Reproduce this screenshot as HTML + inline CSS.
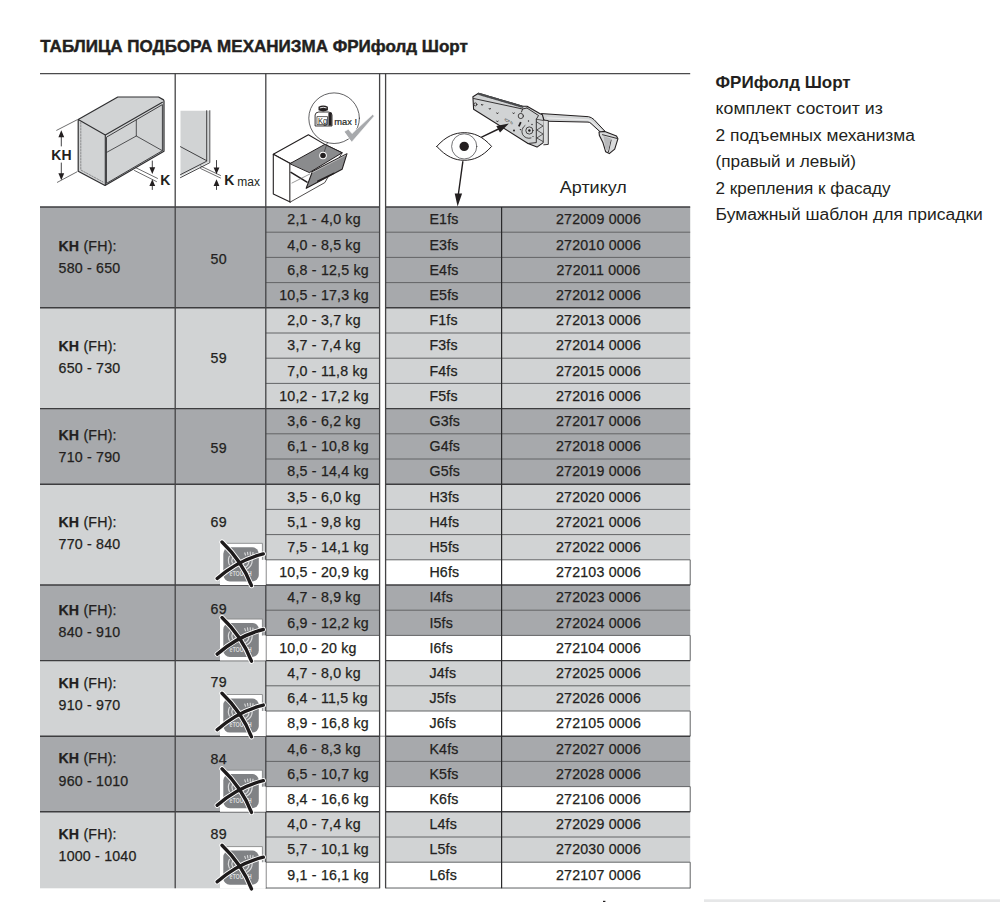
<!DOCTYPE html>
<html><head><meta charset="utf-8"><style>
html,body{margin:0;padding:0;background:#fff;width:1000px;height:902px;overflow:hidden}
svg{display:block}
</style></head><body>
<svg width="1000" height="902" viewBox="0 0 1000 902">
<text x="40.3" y="51.5" font-family="Liberation Sans" font-weight="bold" font-size="17.3" fill="#231f20" stroke="#231f20" stroke-width="0.45" textLength="427.5" lengthAdjust="spacingAndGlyphs">ТАБЛИЦА ПОДБОРА МЕХАНИЗМА ФРИфолд Шорт</text>
<rect x="40" y="207.00" width="339.60" height="100.80" fill="#a7a9ac"/>
<rect x="385.6" y="207.00" width="304.60" height="100.80" fill="#a7a9ac"/>
<rect x="40" y="307.80" width="339.60" height="100.80" fill="#d1d3d4"/>
<rect x="385.6" y="307.80" width="304.60" height="100.80" fill="#d1d3d4"/>
<rect x="40" y="408.60" width="339.60" height="75.60" fill="#a7a9ac"/>
<rect x="385.6" y="408.60" width="304.60" height="75.60" fill="#a7a9ac"/>
<rect x="40" y="484.20" width="339.60" height="100.80" fill="#d1d3d4"/>
<rect x="385.6" y="484.20" width="304.60" height="100.80" fill="#d1d3d4"/>
<rect x="265.8" y="559.80" width="113.80" height="25.20" fill="#fff"/>
<rect x="385.6" y="559.80" width="304.60" height="25.20" fill="#fff"/>
<line x1="690.20" y1="559.80" x2="690.20" y2="585.00" stroke="#636466" stroke-width="1"/>
<rect x="40" y="585.00" width="339.60" height="75.60" fill="#a7a9ac"/>
<rect x="385.6" y="585.00" width="304.60" height="75.60" fill="#a7a9ac"/>
<rect x="265.8" y="635.40" width="113.80" height="25.20" fill="#fff"/>
<rect x="385.6" y="635.40" width="304.60" height="25.20" fill="#fff"/>
<line x1="690.20" y1="635.40" x2="690.20" y2="660.60" stroke="#636466" stroke-width="1"/>
<rect x="40" y="660.60" width="339.60" height="75.60" fill="#d1d3d4"/>
<rect x="385.6" y="660.60" width="304.60" height="75.60" fill="#d1d3d4"/>
<rect x="265.8" y="711.00" width="113.80" height="25.20" fill="#fff"/>
<rect x="385.6" y="711.00" width="304.60" height="25.20" fill="#fff"/>
<line x1="690.20" y1="711.00" x2="690.20" y2="736.20" stroke="#636466" stroke-width="1"/>
<rect x="40" y="736.20" width="339.60" height="75.60" fill="#a7a9ac"/>
<rect x="385.6" y="736.20" width="304.60" height="75.60" fill="#a7a9ac"/>
<rect x="265.8" y="786.60" width="113.80" height="25.20" fill="#fff"/>
<rect x="385.6" y="786.60" width="304.60" height="25.20" fill="#fff"/>
<line x1="690.20" y1="786.60" x2="690.20" y2="811.80" stroke="#636466" stroke-width="1"/>
<rect x="40" y="811.80" width="339.60" height="76.50" fill="#d1d3d4"/>
<rect x="385.6" y="811.80" width="304.60" height="76.50" fill="#d1d3d4"/>
<rect x="265.8" y="862.20" width="113.80" height="26.10" fill="#fff"/>
<rect x="385.6" y="862.20" width="304.60" height="26.10" fill="#fff"/>
<line x1="690.20" y1="862.20" x2="690.20" y2="888.30" stroke="#636466" stroke-width="1"/>
<line x1="265.8" y1="232.20" x2="379.6" y2="232.20" stroke="#636466" stroke-width="1"/>
<line x1="385.6" y1="232.20" x2="690.2" y2="232.20" stroke="#636466" stroke-width="1"/>
<line x1="265.8" y1="257.40" x2="379.6" y2="257.40" stroke="#636466" stroke-width="1"/>
<line x1="385.6" y1="257.40" x2="690.2" y2="257.40" stroke="#636466" stroke-width="1"/>
<line x1="265.8" y1="282.60" x2="379.6" y2="282.60" stroke="#636466" stroke-width="1"/>
<line x1="385.6" y1="282.60" x2="690.2" y2="282.60" stroke="#636466" stroke-width="1"/>
<line x1="265.8" y1="333.00" x2="379.6" y2="333.00" stroke="#636466" stroke-width="1"/>
<line x1="385.6" y1="333.00" x2="690.2" y2="333.00" stroke="#636466" stroke-width="1"/>
<line x1="265.8" y1="358.20" x2="379.6" y2="358.20" stroke="#636466" stroke-width="1"/>
<line x1="385.6" y1="358.20" x2="690.2" y2="358.20" stroke="#636466" stroke-width="1"/>
<line x1="265.8" y1="383.40" x2="379.6" y2="383.40" stroke="#636466" stroke-width="1"/>
<line x1="385.6" y1="383.40" x2="690.2" y2="383.40" stroke="#636466" stroke-width="1"/>
<line x1="265.8" y1="433.80" x2="379.6" y2="433.80" stroke="#636466" stroke-width="1"/>
<line x1="385.6" y1="433.80" x2="690.2" y2="433.80" stroke="#636466" stroke-width="1"/>
<line x1="265.8" y1="459.00" x2="379.6" y2="459.00" stroke="#636466" stroke-width="1"/>
<line x1="385.6" y1="459.00" x2="690.2" y2="459.00" stroke="#636466" stroke-width="1"/>
<line x1="265.8" y1="509.40" x2="379.6" y2="509.40" stroke="#636466" stroke-width="1"/>
<line x1="385.6" y1="509.40" x2="690.2" y2="509.40" stroke="#636466" stroke-width="1"/>
<line x1="265.8" y1="534.60" x2="379.6" y2="534.60" stroke="#636466" stroke-width="1"/>
<line x1="385.6" y1="534.60" x2="690.2" y2="534.60" stroke="#636466" stroke-width="1"/>
<line x1="265.8" y1="559.80" x2="379.6" y2="559.80" stroke="#636466" stroke-width="1"/>
<line x1="385.6" y1="559.80" x2="690.2" y2="559.80" stroke="#636466" stroke-width="1"/>
<line x1="265.8" y1="610.20" x2="379.6" y2="610.20" stroke="#636466" stroke-width="1"/>
<line x1="385.6" y1="610.20" x2="690.2" y2="610.20" stroke="#636466" stroke-width="1"/>
<line x1="265.8" y1="635.40" x2="379.6" y2="635.40" stroke="#636466" stroke-width="1"/>
<line x1="385.6" y1="635.40" x2="690.2" y2="635.40" stroke="#636466" stroke-width="1"/>
<line x1="265.8" y1="685.80" x2="379.6" y2="685.80" stroke="#636466" stroke-width="1"/>
<line x1="385.6" y1="685.80" x2="690.2" y2="685.80" stroke="#636466" stroke-width="1"/>
<line x1="265.8" y1="711.00" x2="379.6" y2="711.00" stroke="#636466" stroke-width="1"/>
<line x1="385.6" y1="711.00" x2="690.2" y2="711.00" stroke="#636466" stroke-width="1"/>
<line x1="265.8" y1="761.40" x2="379.6" y2="761.40" stroke="#636466" stroke-width="1"/>
<line x1="385.6" y1="761.40" x2="690.2" y2="761.40" stroke="#636466" stroke-width="1"/>
<line x1="265.8" y1="786.60" x2="379.6" y2="786.60" stroke="#636466" stroke-width="1"/>
<line x1="385.6" y1="786.60" x2="690.2" y2="786.60" stroke="#636466" stroke-width="1"/>
<line x1="265.8" y1="837.00" x2="379.6" y2="837.00" stroke="#636466" stroke-width="1"/>
<line x1="385.6" y1="837.00" x2="690.2" y2="837.00" stroke="#636466" stroke-width="1"/>
<line x1="265.8" y1="862.20" x2="379.6" y2="862.20" stroke="#636466" stroke-width="1"/>
<line x1="385.6" y1="862.20" x2="690.2" y2="862.20" stroke="#636466" stroke-width="1"/>
<line x1="40" y1="207.00" x2="379.6" y2="207.00" stroke="#3d3d3f" stroke-width="1.4"/>
<line x1="385.6" y1="207.00" x2="690.2" y2="207.00" stroke="#3d3d3f" stroke-width="1.4"/>
<line x1="40" y1="307.80" x2="379.6" y2="307.80" stroke="#3d3d3f" stroke-width="1.4"/>
<line x1="385.6" y1="307.80" x2="690.2" y2="307.80" stroke="#3d3d3f" stroke-width="1.4"/>
<line x1="40" y1="408.60" x2="379.6" y2="408.60" stroke="#3d3d3f" stroke-width="1.4"/>
<line x1="385.6" y1="408.60" x2="690.2" y2="408.60" stroke="#3d3d3f" stroke-width="1.4"/>
<line x1="40" y1="484.20" x2="379.6" y2="484.20" stroke="#3d3d3f" stroke-width="1.4"/>
<line x1="385.6" y1="484.20" x2="690.2" y2="484.20" stroke="#3d3d3f" stroke-width="1.4"/>
<line x1="40" y1="585.00" x2="379.6" y2="585.00" stroke="#3d3d3f" stroke-width="1.4"/>
<line x1="385.6" y1="585.00" x2="690.2" y2="585.00" stroke="#3d3d3f" stroke-width="1.4"/>
<line x1="40" y1="660.60" x2="379.6" y2="660.60" stroke="#3d3d3f" stroke-width="1.4"/>
<line x1="385.6" y1="660.60" x2="690.2" y2="660.60" stroke="#3d3d3f" stroke-width="1.4"/>
<line x1="40" y1="736.20" x2="379.6" y2="736.20" stroke="#3d3d3f" stroke-width="1.4"/>
<line x1="385.6" y1="736.20" x2="690.2" y2="736.20" stroke="#3d3d3f" stroke-width="1.4"/>
<line x1="40" y1="811.80" x2="379.6" y2="811.80" stroke="#3d3d3f" stroke-width="1.4"/>
<line x1="385.6" y1="811.80" x2="690.2" y2="811.80" stroke="#3d3d3f" stroke-width="1.4"/>
<line x1="379.6" y1="736.20" x2="385.6" y2="736.20" stroke="#8e8f91" stroke-width="1"/>
<line x1="265.8" y1="888.00" x2="379.6" y2="888.00" stroke="#636466" stroke-width="1"/>
<line x1="385.6" y1="888.00" x2="690.2" y2="888.00" stroke="#636466" stroke-width="1"/>
<line x1="40" y1="73.6" x2="690.2" y2="73.6" stroke="#4a4a4c" stroke-width="1.3"/>
<line x1="175.2" y1="73" x2="175.2" y2="888.30" stroke="#444446" stroke-width="1.3"/>
<line x1="265.8" y1="73" x2="265.8" y2="888.30" stroke="#444446" stroke-width="1.3"/>
<line x1="379.6" y1="73" x2="379.6" y2="888.30" stroke="#444446" stroke-width="1.3"/>
<line x1="385.6" y1="73" x2="385.6" y2="888.30" stroke="#444446" stroke-width="1.3"/>
<line x1="501.6" y1="207.0" x2="501.6" y2="888.30" stroke="#2a2a2c" stroke-width="1.2"/>
<text x="58.4" y="251" font-family="Liberation Sans" font-size="14.2" fill="#231f20" stroke="#231f20" stroke-width="0.25" letter-spacing="0.2"><tspan font-weight="bold">KH</tspan> (FH):</text>
<text x="58.6" y="273.0" font-family="Liberation Sans" font-size="14.2" fill="#231f20" stroke="#231f20" stroke-width="0.25" letter-spacing="0.2">580 - 650</text>
<text x="218.7" y="263.6" font-family="Liberation Sans" font-size="14.2" fill="#231f20" stroke="#231f20" stroke-width="0.25" letter-spacing="0.2" text-anchor="middle">50</text>
<text x="58.4" y="351" font-family="Liberation Sans" font-size="14.2" fill="#231f20" stroke="#231f20" stroke-width="0.25" letter-spacing="0.2"><tspan font-weight="bold">KH</tspan> (FH):</text>
<text x="58.6" y="373.0" font-family="Liberation Sans" font-size="14.2" fill="#231f20" stroke="#231f20" stroke-width="0.25" letter-spacing="0.2">650 - 730</text>
<text x="218.7" y="363.2" font-family="Liberation Sans" font-size="14.2" fill="#231f20" stroke="#231f20" stroke-width="0.25" letter-spacing="0.2" text-anchor="middle">59</text>
<text x="58.4" y="440.3" font-family="Liberation Sans" font-size="14.2" fill="#231f20" stroke="#231f20" stroke-width="0.25" letter-spacing="0.2"><tspan font-weight="bold">KH</tspan> (FH):</text>
<text x="58.6" y="462.1" font-family="Liberation Sans" font-size="14.2" fill="#231f20" stroke="#231f20" stroke-width="0.25" letter-spacing="0.2">710 - 790</text>
<text x="218.7" y="453" font-family="Liberation Sans" font-size="14.2" fill="#231f20" stroke="#231f20" stroke-width="0.25" letter-spacing="0.2" text-anchor="middle">59</text>
<text x="58.4" y="527.1" font-family="Liberation Sans" font-size="14.2" fill="#231f20" stroke="#231f20" stroke-width="0.25" letter-spacing="0.2"><tspan font-weight="bold">KH</tspan> (FH):</text>
<text x="58.6" y="549.1" font-family="Liberation Sans" font-size="14.2" fill="#231f20" stroke="#231f20" stroke-width="0.25" letter-spacing="0.2">770 - 840</text>
<text x="218.7" y="526.8" font-family="Liberation Sans" font-size="14.2" fill="#231f20" stroke="#231f20" stroke-width="0.25" letter-spacing="0.2" text-anchor="middle">69</text>
<text x="58.4" y="614.5" font-family="Liberation Sans" font-size="14.2" fill="#231f20" stroke="#231f20" stroke-width="0.25" letter-spacing="0.2"><tspan font-weight="bold">KH</tspan> (FH):</text>
<text x="58.6" y="636.6" font-family="Liberation Sans" font-size="14.2" fill="#231f20" stroke="#231f20" stroke-width="0.25" letter-spacing="0.2">840 - 910</text>
<text x="218.7" y="614.4" font-family="Liberation Sans" font-size="14.2" fill="#231f20" stroke="#231f20" stroke-width="0.25" letter-spacing="0.2" text-anchor="middle">69</text>
<text x="58.4" y="687.6" font-family="Liberation Sans" font-size="14.2" fill="#231f20" stroke="#231f20" stroke-width="0.25" letter-spacing="0.2"><tspan font-weight="bold">KH</tspan> (FH):</text>
<text x="58.6" y="709.5" font-family="Liberation Sans" font-size="14.2" fill="#231f20" stroke="#231f20" stroke-width="0.25" letter-spacing="0.2">910 - 970</text>
<text x="218.7" y="686.8" font-family="Liberation Sans" font-size="14.2" fill="#231f20" stroke="#231f20" stroke-width="0.25" letter-spacing="0.2" text-anchor="middle">79</text>
<text x="58.4" y="763.1" font-family="Liberation Sans" font-size="14.2" fill="#231f20" stroke="#231f20" stroke-width="0.25" letter-spacing="0.2"><tspan font-weight="bold">KH</tspan> (FH):</text>
<text x="58.6" y="785.9" font-family="Liberation Sans" font-size="14.2" fill="#231f20" stroke="#231f20" stroke-width="0.25" letter-spacing="0.2">960 - 1010</text>
<text x="218.7" y="763.7" font-family="Liberation Sans" font-size="14.2" fill="#231f20" stroke="#231f20" stroke-width="0.25" letter-spacing="0.2" text-anchor="middle">84</text>
<text x="58.4" y="838.7" font-family="Liberation Sans" font-size="14.2" fill="#231f20" stroke="#231f20" stroke-width="0.25" letter-spacing="0.2"><tspan font-weight="bold">KH</tspan> (FH):</text>
<text x="58.6" y="861.4" font-family="Liberation Sans" font-size="14.2" fill="#231f20" stroke="#231f20" stroke-width="0.25" letter-spacing="0.2">1000 - 1040</text>
<text x="218.7" y="838.7" font-family="Liberation Sans" font-size="14.2" fill="#231f20" stroke="#231f20" stroke-width="0.25" letter-spacing="0.2" text-anchor="middle">89</text>
<text x="307.7" y="224.35" font-family="Liberation Sans" font-size="14.2" fill="#231f20" stroke="#231f20" stroke-width="0.25" letter-spacing="0.2" text-anchor="end">2,1</text><text x="307.7" y="224.35" font-family="Liberation Sans" font-size="14.2" fill="#231f20" stroke="#231f20" stroke-width="0.25" letter-spacing="0.2" xml:space="preserve"> - 4,0 kg</text>
<text x="429.4" y="224.35" font-family="Liberation Sans" font-size="14.2" fill="#231f20" stroke="#231f20" stroke-width="0.25" letter-spacing="0.2">E1fs</text>
<text x="598.50" y="224.35" font-family="Liberation Sans" font-size="14.2" fill="#231f20" stroke="#231f20" stroke-width="0.25" letter-spacing="0.2" text-anchor="middle">272009 0006</text>
<text x="307.7" y="249.55" font-family="Liberation Sans" font-size="14.2" fill="#231f20" stroke="#231f20" stroke-width="0.25" letter-spacing="0.2" text-anchor="end">4,0</text><text x="307.7" y="249.55" font-family="Liberation Sans" font-size="14.2" fill="#231f20" stroke="#231f20" stroke-width="0.25" letter-spacing="0.2" xml:space="preserve"> - 8,5 kg</text>
<text x="429.4" y="249.55" font-family="Liberation Sans" font-size="14.2" fill="#231f20" stroke="#231f20" stroke-width="0.25" letter-spacing="0.2">E3fs</text>
<text x="598.50" y="249.55" font-family="Liberation Sans" font-size="14.2" fill="#231f20" stroke="#231f20" stroke-width="0.25" letter-spacing="0.2" text-anchor="middle">272010 0006</text>
<text x="307.7" y="274.75" font-family="Liberation Sans" font-size="14.2" fill="#231f20" stroke="#231f20" stroke-width="0.25" letter-spacing="0.2" text-anchor="end">6,8</text><text x="307.7" y="274.75" font-family="Liberation Sans" font-size="14.2" fill="#231f20" stroke="#231f20" stroke-width="0.25" letter-spacing="0.2" xml:space="preserve"> - 12,5 kg</text>
<text x="429.4" y="274.75" font-family="Liberation Sans" font-size="14.2" fill="#231f20" stroke="#231f20" stroke-width="0.25" letter-spacing="0.2">E4fs</text>
<text x="598.50" y="274.75" font-family="Liberation Sans" font-size="14.2" fill="#231f20" stroke="#231f20" stroke-width="0.25" letter-spacing="0.2" text-anchor="middle">272011 0006</text>
<text x="307.7" y="299.95" font-family="Liberation Sans" font-size="14.2" fill="#231f20" stroke="#231f20" stroke-width="0.25" letter-spacing="0.2" text-anchor="end">10,5</text><text x="307.7" y="299.95" font-family="Liberation Sans" font-size="14.2" fill="#231f20" stroke="#231f20" stroke-width="0.25" letter-spacing="0.2" xml:space="preserve"> - 17,3 kg</text>
<text x="429.4" y="299.95" font-family="Liberation Sans" font-size="14.2" fill="#231f20" stroke="#231f20" stroke-width="0.25" letter-spacing="0.2">E5fs</text>
<text x="598.50" y="299.95" font-family="Liberation Sans" font-size="14.2" fill="#231f20" stroke="#231f20" stroke-width="0.25" letter-spacing="0.2" text-anchor="middle">272012 0006</text>
<text x="307.7" y="325.15" font-family="Liberation Sans" font-size="14.2" fill="#231f20" stroke="#231f20" stroke-width="0.25" letter-spacing="0.2" text-anchor="end">2,0</text><text x="307.7" y="325.15" font-family="Liberation Sans" font-size="14.2" fill="#231f20" stroke="#231f20" stroke-width="0.25" letter-spacing="0.2" xml:space="preserve"> - 3,7 kg</text>
<text x="429.4" y="325.15" font-family="Liberation Sans" font-size="14.2" fill="#231f20" stroke="#231f20" stroke-width="0.25" letter-spacing="0.2">F1fs</text>
<text x="598.50" y="325.15" font-family="Liberation Sans" font-size="14.2" fill="#231f20" stroke="#231f20" stroke-width="0.25" letter-spacing="0.2" text-anchor="middle">272013 0006</text>
<text x="307.7" y="350.35" font-family="Liberation Sans" font-size="14.2" fill="#231f20" stroke="#231f20" stroke-width="0.25" letter-spacing="0.2" text-anchor="end">3,7</text><text x="307.7" y="350.35" font-family="Liberation Sans" font-size="14.2" fill="#231f20" stroke="#231f20" stroke-width="0.25" letter-spacing="0.2" xml:space="preserve"> - 7,4 kg</text>
<text x="429.4" y="350.35" font-family="Liberation Sans" font-size="14.2" fill="#231f20" stroke="#231f20" stroke-width="0.25" letter-spacing="0.2">F3fs</text>
<text x="598.50" y="350.35" font-family="Liberation Sans" font-size="14.2" fill="#231f20" stroke="#231f20" stroke-width="0.25" letter-spacing="0.2" text-anchor="middle">272014 0006</text>
<text x="307.7" y="375.55" font-family="Liberation Sans" font-size="14.2" fill="#231f20" stroke="#231f20" stroke-width="0.25" letter-spacing="0.2" text-anchor="end">7,0</text><text x="307.7" y="375.55" font-family="Liberation Sans" font-size="14.2" fill="#231f20" stroke="#231f20" stroke-width="0.25" letter-spacing="0.2" xml:space="preserve"> - 11,8 kg</text>
<text x="429.4" y="375.55" font-family="Liberation Sans" font-size="14.2" fill="#231f20" stroke="#231f20" stroke-width="0.25" letter-spacing="0.2">F4fs</text>
<text x="598.50" y="375.55" font-family="Liberation Sans" font-size="14.2" fill="#231f20" stroke="#231f20" stroke-width="0.25" letter-spacing="0.2" text-anchor="middle">272015 0006</text>
<text x="307.7" y="400.75" font-family="Liberation Sans" font-size="14.2" fill="#231f20" stroke="#231f20" stroke-width="0.25" letter-spacing="0.2" text-anchor="end">10,2</text><text x="307.7" y="400.75" font-family="Liberation Sans" font-size="14.2" fill="#231f20" stroke="#231f20" stroke-width="0.25" letter-spacing="0.2" xml:space="preserve"> - 17,2 kg</text>
<text x="429.4" y="400.75" font-family="Liberation Sans" font-size="14.2" fill="#231f20" stroke="#231f20" stroke-width="0.25" letter-spacing="0.2">F5fs</text>
<text x="598.50" y="400.75" font-family="Liberation Sans" font-size="14.2" fill="#231f20" stroke="#231f20" stroke-width="0.25" letter-spacing="0.2" text-anchor="middle">272016 0006</text>
<text x="307.7" y="425.95" font-family="Liberation Sans" font-size="14.2" fill="#231f20" stroke="#231f20" stroke-width="0.25" letter-spacing="0.2" text-anchor="end">3,6</text><text x="307.7" y="425.95" font-family="Liberation Sans" font-size="14.2" fill="#231f20" stroke="#231f20" stroke-width="0.25" letter-spacing="0.2" xml:space="preserve"> - 6,2 kg</text>
<text x="429.4" y="425.95" font-family="Liberation Sans" font-size="14.2" fill="#231f20" stroke="#231f20" stroke-width="0.25" letter-spacing="0.2">G3fs</text>
<text x="598.50" y="425.95" font-family="Liberation Sans" font-size="14.2" fill="#231f20" stroke="#231f20" stroke-width="0.25" letter-spacing="0.2" text-anchor="middle">272017 0006</text>
<text x="307.7" y="451.15" font-family="Liberation Sans" font-size="14.2" fill="#231f20" stroke="#231f20" stroke-width="0.25" letter-spacing="0.2" text-anchor="end">6,1</text><text x="307.7" y="451.15" font-family="Liberation Sans" font-size="14.2" fill="#231f20" stroke="#231f20" stroke-width="0.25" letter-spacing="0.2" xml:space="preserve"> - 10,8 kg</text>
<text x="429.4" y="451.15" font-family="Liberation Sans" font-size="14.2" fill="#231f20" stroke="#231f20" stroke-width="0.25" letter-spacing="0.2">G4fs</text>
<text x="598.50" y="451.15" font-family="Liberation Sans" font-size="14.2" fill="#231f20" stroke="#231f20" stroke-width="0.25" letter-spacing="0.2" text-anchor="middle">272018 0006</text>
<text x="307.7" y="476.35" font-family="Liberation Sans" font-size="14.2" fill="#231f20" stroke="#231f20" stroke-width="0.25" letter-spacing="0.2" text-anchor="end">8,5</text><text x="307.7" y="476.35" font-family="Liberation Sans" font-size="14.2" fill="#231f20" stroke="#231f20" stroke-width="0.25" letter-spacing="0.2" xml:space="preserve"> - 14,4 kg</text>
<text x="429.4" y="476.35" font-family="Liberation Sans" font-size="14.2" fill="#231f20" stroke="#231f20" stroke-width="0.25" letter-spacing="0.2">G5fs</text>
<text x="598.50" y="476.35" font-family="Liberation Sans" font-size="14.2" fill="#231f20" stroke="#231f20" stroke-width="0.25" letter-spacing="0.2" text-anchor="middle">272019 0006</text>
<text x="307.7" y="501.55" font-family="Liberation Sans" font-size="14.2" fill="#231f20" stroke="#231f20" stroke-width="0.25" letter-spacing="0.2" text-anchor="end">3,5</text><text x="307.7" y="501.55" font-family="Liberation Sans" font-size="14.2" fill="#231f20" stroke="#231f20" stroke-width="0.25" letter-spacing="0.2" xml:space="preserve"> - 6,0 kg</text>
<text x="429.4" y="501.55" font-family="Liberation Sans" font-size="14.2" fill="#231f20" stroke="#231f20" stroke-width="0.25" letter-spacing="0.2">H3fs</text>
<text x="598.50" y="501.55" font-family="Liberation Sans" font-size="14.2" fill="#231f20" stroke="#231f20" stroke-width="0.25" letter-spacing="0.2" text-anchor="middle">272020 0006</text>
<text x="307.7" y="526.75" font-family="Liberation Sans" font-size="14.2" fill="#231f20" stroke="#231f20" stroke-width="0.25" letter-spacing="0.2" text-anchor="end">5,1</text><text x="307.7" y="526.75" font-family="Liberation Sans" font-size="14.2" fill="#231f20" stroke="#231f20" stroke-width="0.25" letter-spacing="0.2" xml:space="preserve"> - 9,8 kg</text>
<text x="429.4" y="526.75" font-family="Liberation Sans" font-size="14.2" fill="#231f20" stroke="#231f20" stroke-width="0.25" letter-spacing="0.2">H4fs</text>
<text x="598.50" y="526.75" font-family="Liberation Sans" font-size="14.2" fill="#231f20" stroke="#231f20" stroke-width="0.25" letter-spacing="0.2" text-anchor="middle">272021 0006</text>
<text x="307.7" y="551.95" font-family="Liberation Sans" font-size="14.2" fill="#231f20" stroke="#231f20" stroke-width="0.25" letter-spacing="0.2" text-anchor="end">7,5</text><text x="307.7" y="551.95" font-family="Liberation Sans" font-size="14.2" fill="#231f20" stroke="#231f20" stroke-width="0.25" letter-spacing="0.2" xml:space="preserve"> - 14,1 kg</text>
<text x="429.4" y="551.95" font-family="Liberation Sans" font-size="14.2" fill="#231f20" stroke="#231f20" stroke-width="0.25" letter-spacing="0.2">H5fs</text>
<text x="598.50" y="551.95" font-family="Liberation Sans" font-size="14.2" fill="#231f20" stroke="#231f20" stroke-width="0.25" letter-spacing="0.2" text-anchor="middle">272022 0006</text>
<text x="307.7" y="577.15" font-family="Liberation Sans" font-size="14.2" fill="#231f20" stroke="#231f20" stroke-width="0.25" letter-spacing="0.2" text-anchor="end">10,5</text><text x="307.7" y="577.15" font-family="Liberation Sans" font-size="14.2" fill="#231f20" stroke="#231f20" stroke-width="0.25" letter-spacing="0.2" xml:space="preserve"> - 20,9 kg</text>
<text x="429.4" y="577.15" font-family="Liberation Sans" font-size="14.2" fill="#231f20" stroke="#231f20" stroke-width="0.25" letter-spacing="0.2">H6fs</text>
<text x="598.50" y="577.15" font-family="Liberation Sans" font-size="14.2" fill="#231f20" stroke="#231f20" stroke-width="0.25" letter-spacing="0.2" text-anchor="middle">272103 0006</text>
<text x="307.7" y="602.35" font-family="Liberation Sans" font-size="14.2" fill="#231f20" stroke="#231f20" stroke-width="0.25" letter-spacing="0.2" text-anchor="end">4,7</text><text x="307.7" y="602.35" font-family="Liberation Sans" font-size="14.2" fill="#231f20" stroke="#231f20" stroke-width="0.25" letter-spacing="0.2" xml:space="preserve"> - 8,9 kg</text>
<text x="429.4" y="602.35" font-family="Liberation Sans" font-size="14.2" fill="#231f20" stroke="#231f20" stroke-width="0.25" letter-spacing="0.2">I4fs</text>
<text x="598.50" y="602.35" font-family="Liberation Sans" font-size="14.2" fill="#231f20" stroke="#231f20" stroke-width="0.25" letter-spacing="0.2" text-anchor="middle">272023 0006</text>
<text x="307.7" y="627.55" font-family="Liberation Sans" font-size="14.2" fill="#231f20" stroke="#231f20" stroke-width="0.25" letter-spacing="0.2" text-anchor="end">6,9</text><text x="307.7" y="627.55" font-family="Liberation Sans" font-size="14.2" fill="#231f20" stroke="#231f20" stroke-width="0.25" letter-spacing="0.2" xml:space="preserve"> - 12,2 kg</text>
<text x="429.4" y="627.55" font-family="Liberation Sans" font-size="14.2" fill="#231f20" stroke="#231f20" stroke-width="0.25" letter-spacing="0.2">I5fs</text>
<text x="598.50" y="627.55" font-family="Liberation Sans" font-size="14.2" fill="#231f20" stroke="#231f20" stroke-width="0.25" letter-spacing="0.2" text-anchor="middle">272024 0006</text>
<text x="307.7" y="652.75" font-family="Liberation Sans" font-size="14.2" fill="#231f20" stroke="#231f20" stroke-width="0.25" letter-spacing="0.2" text-anchor="end">10,0</text><text x="307.7" y="652.75" font-family="Liberation Sans" font-size="14.2" fill="#231f20" stroke="#231f20" stroke-width="0.25" letter-spacing="0.2" xml:space="preserve"> - 20 kg</text>
<text x="429.4" y="652.75" font-family="Liberation Sans" font-size="14.2" fill="#231f20" stroke="#231f20" stroke-width="0.25" letter-spacing="0.2">I6fs</text>
<text x="598.50" y="652.75" font-family="Liberation Sans" font-size="14.2" fill="#231f20" stroke="#231f20" stroke-width="0.25" letter-spacing="0.2" text-anchor="middle">272104 0006</text>
<text x="307.7" y="677.95" font-family="Liberation Sans" font-size="14.2" fill="#231f20" stroke="#231f20" stroke-width="0.25" letter-spacing="0.2" text-anchor="end">4,7</text><text x="307.7" y="677.95" font-family="Liberation Sans" font-size="14.2" fill="#231f20" stroke="#231f20" stroke-width="0.25" letter-spacing="0.2" xml:space="preserve"> - 8,0 kg</text>
<text x="429.4" y="677.95" font-family="Liberation Sans" font-size="14.2" fill="#231f20" stroke="#231f20" stroke-width="0.25" letter-spacing="0.2">J4fs</text>
<text x="598.50" y="677.95" font-family="Liberation Sans" font-size="14.2" fill="#231f20" stroke="#231f20" stroke-width="0.25" letter-spacing="0.2" text-anchor="middle">272025 0006</text>
<text x="307.7" y="703.15" font-family="Liberation Sans" font-size="14.2" fill="#231f20" stroke="#231f20" stroke-width="0.25" letter-spacing="0.2" text-anchor="end">6,4</text><text x="307.7" y="703.15" font-family="Liberation Sans" font-size="14.2" fill="#231f20" stroke="#231f20" stroke-width="0.25" letter-spacing="0.2" xml:space="preserve"> - 11,5 kg</text>
<text x="429.4" y="703.15" font-family="Liberation Sans" font-size="14.2" fill="#231f20" stroke="#231f20" stroke-width="0.25" letter-spacing="0.2">J5fs</text>
<text x="598.50" y="703.15" font-family="Liberation Sans" font-size="14.2" fill="#231f20" stroke="#231f20" stroke-width="0.25" letter-spacing="0.2" text-anchor="middle">272026 0006</text>
<text x="307.7" y="728.35" font-family="Liberation Sans" font-size="14.2" fill="#231f20" stroke="#231f20" stroke-width="0.25" letter-spacing="0.2" text-anchor="end">8,9</text><text x="307.7" y="728.35" font-family="Liberation Sans" font-size="14.2" fill="#231f20" stroke="#231f20" stroke-width="0.25" letter-spacing="0.2" xml:space="preserve"> - 16,8 kg</text>
<text x="429.4" y="728.35" font-family="Liberation Sans" font-size="14.2" fill="#231f20" stroke="#231f20" stroke-width="0.25" letter-spacing="0.2">J6fs</text>
<text x="598.50" y="728.35" font-family="Liberation Sans" font-size="14.2" fill="#231f20" stroke="#231f20" stroke-width="0.25" letter-spacing="0.2" text-anchor="middle">272105 0006</text>
<text x="307.7" y="753.55" font-family="Liberation Sans" font-size="14.2" fill="#231f20" stroke="#231f20" stroke-width="0.25" letter-spacing="0.2" text-anchor="end">4,6</text><text x="307.7" y="753.55" font-family="Liberation Sans" font-size="14.2" fill="#231f20" stroke="#231f20" stroke-width="0.25" letter-spacing="0.2" xml:space="preserve"> - 8,3 kg</text>
<text x="429.4" y="753.55" font-family="Liberation Sans" font-size="14.2" fill="#231f20" stroke="#231f20" stroke-width="0.25" letter-spacing="0.2">K4fs</text>
<text x="598.50" y="753.55" font-family="Liberation Sans" font-size="14.2" fill="#231f20" stroke="#231f20" stroke-width="0.25" letter-spacing="0.2" text-anchor="middle">272027 0006</text>
<text x="307.7" y="778.75" font-family="Liberation Sans" font-size="14.2" fill="#231f20" stroke="#231f20" stroke-width="0.25" letter-spacing="0.2" text-anchor="end">6,5</text><text x="307.7" y="778.75" font-family="Liberation Sans" font-size="14.2" fill="#231f20" stroke="#231f20" stroke-width="0.25" letter-spacing="0.2" xml:space="preserve"> - 10,7 kg</text>
<text x="429.4" y="778.75" font-family="Liberation Sans" font-size="14.2" fill="#231f20" stroke="#231f20" stroke-width="0.25" letter-spacing="0.2">K5fs</text>
<text x="598.50" y="778.75" font-family="Liberation Sans" font-size="14.2" fill="#231f20" stroke="#231f20" stroke-width="0.25" letter-spacing="0.2" text-anchor="middle">272028 0006</text>
<text x="307.7" y="803.95" font-family="Liberation Sans" font-size="14.2" fill="#231f20" stroke="#231f20" stroke-width="0.25" letter-spacing="0.2" text-anchor="end">8,4</text><text x="307.7" y="803.95" font-family="Liberation Sans" font-size="14.2" fill="#231f20" stroke="#231f20" stroke-width="0.25" letter-spacing="0.2" xml:space="preserve"> - 16,6 kg</text>
<text x="429.4" y="803.95" font-family="Liberation Sans" font-size="14.2" fill="#231f20" stroke="#231f20" stroke-width="0.25" letter-spacing="0.2">K6fs</text>
<text x="598.50" y="803.95" font-family="Liberation Sans" font-size="14.2" fill="#231f20" stroke="#231f20" stroke-width="0.25" letter-spacing="0.2" text-anchor="middle">272106 0006</text>
<text x="307.7" y="829.15" font-family="Liberation Sans" font-size="14.2" fill="#231f20" stroke="#231f20" stroke-width="0.25" letter-spacing="0.2" text-anchor="end">4,0</text><text x="307.7" y="829.15" font-family="Liberation Sans" font-size="14.2" fill="#231f20" stroke="#231f20" stroke-width="0.25" letter-spacing="0.2" xml:space="preserve"> - 7,4 kg</text>
<text x="429.4" y="829.15" font-family="Liberation Sans" font-size="14.2" fill="#231f20" stroke="#231f20" stroke-width="0.25" letter-spacing="0.2">L4fs</text>
<text x="598.50" y="829.15" font-family="Liberation Sans" font-size="14.2" fill="#231f20" stroke="#231f20" stroke-width="0.25" letter-spacing="0.2" text-anchor="middle">272029 0006</text>
<text x="307.7" y="854.35" font-family="Liberation Sans" font-size="14.2" fill="#231f20" stroke="#231f20" stroke-width="0.25" letter-spacing="0.2" text-anchor="end">5,7</text><text x="307.7" y="854.35" font-family="Liberation Sans" font-size="14.2" fill="#231f20" stroke="#231f20" stroke-width="0.25" letter-spacing="0.2" xml:space="preserve"> - 10,1 kg</text>
<text x="429.4" y="854.35" font-family="Liberation Sans" font-size="14.2" fill="#231f20" stroke="#231f20" stroke-width="0.25" letter-spacing="0.2">L5fs</text>
<text x="598.50" y="854.35" font-family="Liberation Sans" font-size="14.2" fill="#231f20" stroke="#231f20" stroke-width="0.25" letter-spacing="0.2" text-anchor="middle">272030 0006</text>
<text x="307.7" y="879.55" font-family="Liberation Sans" font-size="14.2" fill="#231f20" stroke="#231f20" stroke-width="0.25" letter-spacing="0.2" text-anchor="end">9,1</text><text x="307.7" y="879.55" font-family="Liberation Sans" font-size="14.2" fill="#231f20" stroke="#231f20" stroke-width="0.25" letter-spacing="0.2" xml:space="preserve"> - 16,1 kg</text>
<text x="429.4" y="879.55" font-family="Liberation Sans" font-size="14.2" fill="#231f20" stroke="#231f20" stroke-width="0.25" letter-spacing="0.2">L6fs</text>
<text x="598.50" y="879.55" font-family="Liberation Sans" font-size="14.2" fill="#231f20" stroke="#231f20" stroke-width="0.25" letter-spacing="0.2" text-anchor="middle">272107 0006</text>
<rect x="220.0" y="543.70" width="42.00" height="41.30" fill="#fff"/>
<rect x="262.0" y="559.80" width="3.80" height="25.20" fill="#fff"/>
<path d="M220.0 543.30 H262.4 V559.80" fill="none" stroke="#8d8e90" stroke-width="0.9"/>
<g transform="translate(220.0,585.00)"><rect x="3.3" y="-37.7" width="35.5" height="34.1" rx="6.5" fill="#808285"/><g fill="none" stroke="#d9dadb" stroke-width="1.15" stroke-linecap="butt"><path d="M9.6 -29.2 A10 10 0 0 0 9.6 -19.8"/><path d="M12.6 -27.6 A7 7 0 0 0 12.6 -21.4"/><path d="M32.2 -25.2 A10.5 10.5 0 0 1 26.5 -15.6"/><path d="M29 -24 A7 7 0 0 1 24.6 -17.6"/><path d="M24.6 -32.5 L25.6 -29.5 M27.4 -33.2 L28 -29.8 M30.2 -33.4 L30.4 -30 M33 -33 L32.8 -29.8" stroke-width="1.1"/></g><text x="20.5" y="-9" font-family="Liberation Sans" font-weight="bold" font-size="7" fill="#d9dadb" text-anchor="middle" textLength="22.2" lengthAdjust="spacingAndGlyphs">eTOUCH</text><path d="M2 -43 Q21.9 -24 31.5 0.6 M-2.8 -6.5 Q18.5 -25 43.3 -31.1" fill="none" stroke="#fff" stroke-width="5.2" stroke-linecap="round"/><path d="M2 -43 Q21.9 -24 31.5 0.6 M-2.8 -6.5 Q18.5 -25 43.3 -31.1" fill="none" stroke="#1e1b1c" stroke-width="3.4" stroke-linecap="round"/></g>
<rect x="220.0" y="619.30" width="42.00" height="41.30" fill="#fff"/>
<rect x="262.0" y="635.40" width="3.80" height="25.20" fill="#fff"/>
<path d="M220.0 618.90 H262.4 V635.40" fill="none" stroke="#8d8e90" stroke-width="0.9"/>
<g transform="translate(220.0,660.60)"><rect x="3.3" y="-37.7" width="35.5" height="34.1" rx="6.5" fill="#808285"/><g fill="none" stroke="#d9dadb" stroke-width="1.15" stroke-linecap="butt"><path d="M9.6 -29.2 A10 10 0 0 0 9.6 -19.8"/><path d="M12.6 -27.6 A7 7 0 0 0 12.6 -21.4"/><path d="M32.2 -25.2 A10.5 10.5 0 0 1 26.5 -15.6"/><path d="M29 -24 A7 7 0 0 1 24.6 -17.6"/><path d="M24.6 -32.5 L25.6 -29.5 M27.4 -33.2 L28 -29.8 M30.2 -33.4 L30.4 -30 M33 -33 L32.8 -29.8" stroke-width="1.1"/></g><text x="20.5" y="-9" font-family="Liberation Sans" font-weight="bold" font-size="7" fill="#d9dadb" text-anchor="middle" textLength="22.2" lengthAdjust="spacingAndGlyphs">eTOUCH</text><path d="M2 -43 Q21.9 -24 31.5 0.6 M-2.8 -6.5 Q18.5 -25 43.3 -31.1" fill="none" stroke="#fff" stroke-width="5.2" stroke-linecap="round"/><path d="M2 -43 Q21.9 -24 31.5 0.6 M-2.8 -6.5 Q18.5 -25 43.3 -31.1" fill="none" stroke="#1e1b1c" stroke-width="3.4" stroke-linecap="round"/></g>
<rect x="220.0" y="694.90" width="42.00" height="41.30" fill="#fff"/>
<rect x="262.0" y="711.00" width="3.80" height="25.20" fill="#fff"/>
<path d="M220.0 694.50 H262.4 V711.00" fill="none" stroke="#8d8e90" stroke-width="0.9"/>
<g transform="translate(220.0,736.20)"><rect x="3.3" y="-37.7" width="35.5" height="34.1" rx="6.5" fill="#808285"/><g fill="none" stroke="#d9dadb" stroke-width="1.15" stroke-linecap="butt"><path d="M9.6 -29.2 A10 10 0 0 0 9.6 -19.8"/><path d="M12.6 -27.6 A7 7 0 0 0 12.6 -21.4"/><path d="M32.2 -25.2 A10.5 10.5 0 0 1 26.5 -15.6"/><path d="M29 -24 A7 7 0 0 1 24.6 -17.6"/><path d="M24.6 -32.5 L25.6 -29.5 M27.4 -33.2 L28 -29.8 M30.2 -33.4 L30.4 -30 M33 -33 L32.8 -29.8" stroke-width="1.1"/></g><text x="20.5" y="-9" font-family="Liberation Sans" font-weight="bold" font-size="7" fill="#d9dadb" text-anchor="middle" textLength="22.2" lengthAdjust="spacingAndGlyphs">eTOUCH</text><path d="M2 -43 Q21.9 -24 31.5 0.6 M-2.8 -6.5 Q18.5 -25 43.3 -31.1" fill="none" stroke="#fff" stroke-width="5.2" stroke-linecap="round"/><path d="M2 -43 Q21.9 -24 31.5 0.6 M-2.8 -6.5 Q18.5 -25 43.3 -31.1" fill="none" stroke="#1e1b1c" stroke-width="3.4" stroke-linecap="round"/></g>
<rect x="220.0" y="770.50" width="42.00" height="41.30" fill="#fff"/>
<rect x="262.0" y="786.60" width="3.80" height="25.20" fill="#fff"/>
<path d="M220.0 770.10 H262.4 V786.60" fill="none" stroke="#8d8e90" stroke-width="0.9"/>
<g transform="translate(220.0,811.80)"><rect x="3.3" y="-37.7" width="35.5" height="34.1" rx="6.5" fill="#808285"/><g fill="none" stroke="#d9dadb" stroke-width="1.15" stroke-linecap="butt"><path d="M9.6 -29.2 A10 10 0 0 0 9.6 -19.8"/><path d="M12.6 -27.6 A7 7 0 0 0 12.6 -21.4"/><path d="M32.2 -25.2 A10.5 10.5 0 0 1 26.5 -15.6"/><path d="M29 -24 A7 7 0 0 1 24.6 -17.6"/><path d="M24.6 -32.5 L25.6 -29.5 M27.4 -33.2 L28 -29.8 M30.2 -33.4 L30.4 -30 M33 -33 L32.8 -29.8" stroke-width="1.1"/></g><text x="20.5" y="-9" font-family="Liberation Sans" font-weight="bold" font-size="7" fill="#d9dadb" text-anchor="middle" textLength="22.2" lengthAdjust="spacingAndGlyphs">eTOUCH</text><path d="M2 -43 Q21.9 -24 31.5 0.6 M-2.8 -6.5 Q18.5 -25 43.3 -31.1" fill="none" stroke="#fff" stroke-width="5.2" stroke-linecap="round"/><path d="M2 -43 Q21.9 -24 31.5 0.6 M-2.8 -6.5 Q18.5 -25 43.3 -31.1" fill="none" stroke="#1e1b1c" stroke-width="3.4" stroke-linecap="round"/></g>
<rect x="220.0" y="847.00" width="42.00" height="41.30" fill="#fff"/>
<rect x="262.0" y="862.20" width="3.80" height="26.10" fill="#fff"/>
<path d="M220.0 846.60 H262.4 V862.20" fill="none" stroke="#8d8e90" stroke-width="0.9"/>
<g transform="translate(220.0,888.30)"><rect x="3.3" y="-37.7" width="35.5" height="34.1" rx="6.5" fill="#808285"/><g fill="none" stroke="#d9dadb" stroke-width="1.15" stroke-linecap="butt"><path d="M9.6 -29.2 A10 10 0 0 0 9.6 -19.8"/><path d="M12.6 -27.6 A7 7 0 0 0 12.6 -21.4"/><path d="M32.2 -25.2 A10.5 10.5 0 0 1 26.5 -15.6"/><path d="M29 -24 A7 7 0 0 1 24.6 -17.6"/><path d="M24.6 -32.5 L25.6 -29.5 M27.4 -33.2 L28 -29.8 M30.2 -33.4 L30.4 -30 M33 -33 L32.8 -29.8" stroke-width="1.1"/></g><text x="20.5" y="-9" font-family="Liberation Sans" font-weight="bold" font-size="7" fill="#d9dadb" text-anchor="middle" textLength="22.2" lengthAdjust="spacingAndGlyphs">eTOUCH</text><path d="M2 -43 Q21.9 -24 31.5 0.6 M-2.8 -6.5 Q18.5 -25 43.3 -31.1" fill="none" stroke="#fff" stroke-width="5.2" stroke-linecap="round"/><path d="M2 -43 Q21.9 -24 31.5 0.6 M-2.8 -6.5 Q18.5 -25 43.3 -31.1" fill="none" stroke="#1e1b1c" stroke-width="3.4" stroke-linecap="round"/></g>
<g font-family="Liberation Sans" fill="#231f20">
<text x="715.6" y="88.2" font-weight="bold" font-size="16.7" textLength="135.1" lengthAdjust="spacingAndGlyphs">ФРИфолд Шорт</text>
<text x="715.6" y="114.4" font-size="17.3" textLength="167.2" lengthAdjust="spacingAndGlyphs">комплект состоит из</text>
<text x="715.6" y="140.7" font-size="17.3" textLength="199.3" lengthAdjust="spacingAndGlyphs">2 подъемных механизма</text>
<text x="715.6" y="167.2" font-size="17.3" textLength="140.5" lengthAdjust="spacingAndGlyphs">(правый и левый)</text>
<text x="715.6" y="193.7" font-size="17.3" textLength="174.9" lengthAdjust="spacingAndGlyphs">2 крепления к фасаду</text>
<text x="715.6" y="220.1" font-size="17.3" textLength="267.3" lengthAdjust="spacingAndGlyphs">Бумажный шаблон для присадки</text>
<text x="559.8" y="192.6" font-size="17.4" textLength="67" lengthAdjust="spacingAndGlyphs">Артикул</text>
</g>
<rect x="704" y="899.3" width="296" height="2.7" fill="#e6e7e8"/>
<rect x="603" y="900.8" width="2.4" height="1.2" fill="#231f20"/>
<g id="hdr" stroke-linejoin="round" stroke-linecap="round">
<!-- col1 cabinet -->
<g fill="#d1d3d4" stroke="#2f2f31" stroke-width="1.2">
<path d="M78.2 119.6 L117.8 97 L158.5 97 L163.2 99.6 Q164 100.2 164 101.2 L164 151.2 L105 185.5 L78.2 171.3 Z"/>
</g>
<g fill="none" stroke="#2f2f31" stroke-width="1.1">
<path d="M78.2 119.6 L105.3 134.9 L105.3 185"/>
<path d="M105.3 134.9 L162.4 102.3"/>
<path d="M106.8 137 L162.4 104.6 L162.4 150.7 L106.8 183.2 Z" stroke-width="0.9"/>
<path d="M136.3 120 L136.3 136 L106.8 152.3 M136.3 136 L162.4 150.7" stroke-width="0.8"/>
<path d="M80.8 122.5 L80.8 170 L103 182" stroke="#6a6a6c" stroke-width="0.7" stroke-dasharray="1.6 1.4"/>
<path d="M56.7 130.3 L76.9 119.9 M57.4 182.3 L76.9 171.9" stroke-width="0.7"/>
<path d="M61.3 135 V146 M61.3 163 V175.5" stroke-width="0.9"/>
<path d="M136 167.8 L157.5 178.4 M134.5 170.5 L156.5 181.6" stroke-width="0.7"/>
<path d="M152.3 161 V169 M152.3 184 V189.5" stroke-width="0.9"/>
</g>
<g fill="#231f20" stroke="none">
<path d="M61.3 130.3 L58.4 137.2 L64.2 137.2 Z"/>
<path d="M61.3 180.2 L58.4 173.3 L64.2 173.3 Z"/>
<path d="M152.3 174 L149.4 167.3 L155.2 167.3 Z"/>
<path d="M152.3 179.2 L149.4 185.9 L155.2 185.9 Z"/>
</g>
<text x="51.3" y="159.7" font-family="Liberation Sans" font-weight="bold" font-size="14" fill="#231f20">KH</text>
<text x="160.2" y="185.2" font-family="Liberation Sans" font-weight="bold" font-size="14" fill="#231f20">K</text>

<!-- col2 panel -->
<path d="M180.5 110.7 L209 110.7 L209 162 L180.5 176.3 Z" fill="#d1d3d4" stroke="none"/>
<g fill="none" stroke="#2f2f31" stroke-width="0.9">
<path d="M206.7 110.7 V161.2 L180.5 174.6"/>
<path d="M209.8 110.7 V162.7 L180.5 177.6"/>
<path d="M180.5 146.7 L206.7 160.7"/>
<path d="M200.6 166 L220.5 175.5 M200.6 168.5 L220.5 178" stroke-width="0.7"/>
<path d="M216.5 160.5 V168.5 M216.5 184 V189.5"/>
</g>
<g fill="#231f20" stroke="none">
<path d="M216.5 174.3 L213.6 167.6 L219.4 167.6 Z"/>
<path d="M216.5 179.2 L213.6 185.9 L219.4 185.9 Z"/>
</g>
<text x="224.3" y="184.6" font-family="Liberation Sans" font-weight="bold" font-size="14" fill="#231f20">K</text>
<text x="237.3" y="186.3" font-family="Liberation Sans" font-size="12" fill="#231f20">max</text>

<!-- col3 weight cabinet -->
<circle cx="334.1" cy="118.2" r="25.3" fill="#fff" stroke="#3a3a3c" stroke-width="0.8"/>
<path d="M344.3 131.6 L348.4 129.2 L352 133.6 L372.6 114.6 L374.3 116 L351.8 142 Z" fill="#a7a9ac" stroke="#fff" stroke-width="0.6"/>
<path d="M315.1 125.6 V115 Q315.3 112.2 318.8 112 H328.5 Q332 112.2 332 115 V125.6 Z" fill="#fff" stroke="#231f20" stroke-width="0.9"/>
<rect x="328.4" y="112.6" width="3.3" height="13" fill="#231f20"/>
<rect x="317.3" y="116.6" width="10.2" height="8" fill="#fff" stroke="#231f20" stroke-width="0.7"/>
<path d="M318.5 106.8 Q323.2 104.3 327.9 106.8 V110.3 Q323.2 112.6 318.5 110.3 Z" fill="#231f20"/>
<path d="M320.2 107.8 Q323.2 106.6 326.2 107.8" fill="none" stroke="#fff" stroke-width="0.9"/>
<text x="317.9" y="123.7" font-family="Liberation Sans" font-size="8.2" fill="#231f20" textLength="9.2" lengthAdjust="spacingAndGlyphs">Kg</text>
<text x="334.3" y="125.1" font-family="Liberation Sans" font-size="9.3" fill="#231f20" stroke="#231f20" stroke-width="0.2">max !</text>
<g stroke="#231f20" stroke-width="1.1" fill="#fff">
<path d="M273.3 154.2 L308.4 134.7 L324.8 144.4 L342.1 152.8 L290.2 163.5 Z"/>
<path d="M273.3 154.2 L290.2 163.5 L290.2 202.1 L273.3 194.1 Z"/>
<path d="M290.2 163.5 L342.1 152.8 L324.8 182.6 L290.2 202.1 Z" stroke-width="0.8"/>
</g>
<path d="M290.2 163.5 L324.8 144.4 L342.1 152.8 L309.7 172.4 Z" fill="#8a8b8d" stroke="#231f20" stroke-width="1"/>
<path d="M291 172.4 L307 182.1" stroke="#231f20" stroke-width="1.6"/>
<path d="M292 183 L309.7 174.1" stroke="#555" stroke-width="0.6"/>
<path d="M306.2 188.3 L312.4 171.5 L347 153.7 L342.1 169.3 Z" fill="#8a8b8d" stroke="#231f20" stroke-width="1.1"/>
<path d="M317.7 181.2 L333.7 173.3" stroke="#231f20" stroke-width="1.4"/>
<path d="M312.5 172.5 L346 155" stroke="#e8e8e8" stroke-width="0.6"/>
<path d="M323 155.5 L327.4 142.6" stroke="#3a3a3c" stroke-width="0.7"/>
<circle cx="323" cy="155.5" r="3.8" fill="#fff"/>
<circle cx="323" cy="155.5" r="2.8" fill="#231f20"/>

<!-- col4 eye + mechanism -->
<path d="M436.8 146.4 C446 136 455 132.7 464.2 132.7 C473.4 132.7 482.4 136 491.6 146.4 C482.4 156.8 473.4 160.3 464.2 160.3 C455 160.3 446 156.8 436.8 146.4 Z" fill="#fff" stroke="#231f20" stroke-width="1"/>
<circle cx="464.2" cy="146.4" r="12.6" fill="none" stroke="#3a3a3c" stroke-width="0.7"/>
<circle cx="464.2" cy="146.4" r="4.7" fill="#231f20"/>
<!-- arm -->
<path d="M541.6 113.6 L588.6 116.7 Q591.5 117.3 594 119.6 L604.8 131.1 L601.2 132.8 L591 123.5 Q589.8 122.2 588 122.1 L545 121.2 Z" fill="#d1d3d4" stroke="#231f20" stroke-width="1" stroke-linejoin="round"/>
<path d="M547 117.8 L588 119.8 Q590 120.3 592 122 L602.5 131.5" fill="none" stroke="#e9e9ea" stroke-width="1.2"/>
<!-- clip -->
<path d="M599 132 L604.8 131.4 L616.5 136.1 L617.9 138.8 L614.7 149.1 L609.3 153.6 L605.7 151.8 L603 142.8 L599.4 135.6 Z" fill="#d9dadb" stroke="#231f20" stroke-width="1.1" stroke-linejoin="round"/>
<path d="M602.5 134.7 L616.8 138.4 M611.1 140.1 L608.4 151.8" fill="none" stroke="#231f20" stroke-width="0.9"/>
<path d="M603.5 136 L611 138.5 L608.4 150.5 L605.5 149.5 Z" fill="#b8b9bb"/>
<!-- plate -->
<path d="M472.9 96.7 L478.5 93.3 L522.6 106.2 L527.1 106.2 L539.7 113.4 L542.4 114.7 L543.8 120.1 L543.3 142.6 L537 147.1 L528 143.5 L473.6 109.3 Z" fill="#d1d3d4" stroke="#231f20" stroke-width="1.1" stroke-linejoin="round"/>
<path d="M473.6 98.5 L522.6 109 L527 108" fill="none" stroke="#231f20" stroke-width="0.9"/>
<path d="M478.5 93.8 L522.6 106.8" fill="none" stroke="#4a4b4d" stroke-width="2.2" stroke-dasharray="0.9 0.6"/>
<path d="M522.6 109 L521.5 112 M527 108 L538.5 115.5 L536.3 119.2 L536.3 142.6 L528 143.5" fill="none" stroke="#231f20" stroke-width="0.9"/>
<path d="M536.3 119.2 L543.5 120.5" fill="none" stroke="#231f20" stroke-width="0.7"/>
<path d="M536.8 122 L543 126 L536.8 130 L543 134 L536.8 138 L543 141.5" fill="none" stroke="#231f20" stroke-width="0.7"/>
<path d="M543.3 120.1 L548.3 120.6 L548.3 144.4 L543.8 144.8" fill="#dcdddd" stroke="#231f20" stroke-width="0.9"/>
<g fill="none" stroke="#231f20" stroke-width="0.8">
<circle cx="475.4" cy="104.4" r="1.5"/>
<path d="M481.3 104.4 Q482.1 106.8 483 104.4 M489 108.4 Q489.8 110.8 490.6 108.4 M496.6 112.9 Q497.4 115.3 498.2 112.9 M512.8 112.9 Q513.6 115.3 514.4 112.9 M496.6 121 Q497.4 123.4 498.2 121"/>
<circle cx="520.8" cy="116" r="2.6"/>
<circle cx="529.4" cy="130.5" r="3.6"/>
<path d="M525 125.5 A7 7 0 0 0 531 138"/>
</g>
<g fill="#231f20">
<path d="M518 126 L520 121.8 L521.6 122.5 L519.6 126.8 Z"/>
<circle cx="514" cy="130.5" r="1"/><circle cx="520.4" cy="129.6" r="0.7"/><circle cx="529.4" cy="130.5" r="1.2"/>
<circle cx="532" cy="124.5" r="0.7"/><circle cx="528.5" cy="121" r="0.7"/><circle cx="533" cy="136.5" r="0.6"/>
</g>
<text x="504" y="120" font-family="Liberation Sans" font-size="3.5" fill="#231f20" transform="rotate(30 504 120)">ICP fs</text>
<!-- arrows -->
<path d="M481.6 137.1 L498.5 129" stroke="#231f20" stroke-width="1.4"/>
<path d="M508.9 123.4 L496.3 126.1 L500 132.4 Z" fill="#231f20"/>
<path d="M462.8 161.8 L458.4 194" stroke="#231f20" stroke-width="1.4"/>
<path d="M457.6 206.6 L454.7 193.4 L462.1 193.4 Z" fill="#231f20"/>
</g>

</svg>
</body></html>
